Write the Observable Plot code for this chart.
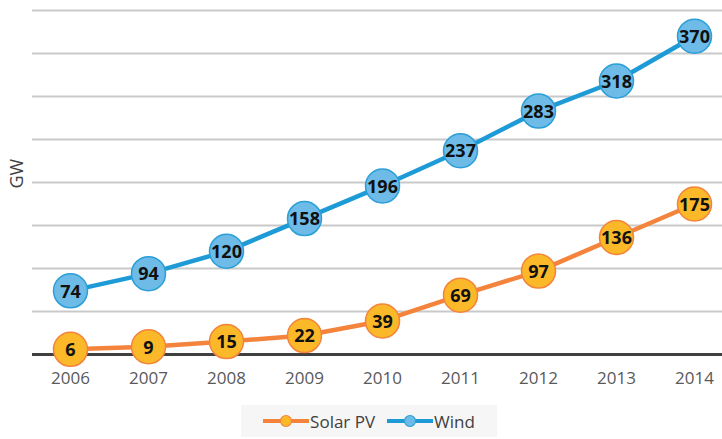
<!DOCTYPE html>
<html>
<head>
<meta charset="utf-8">
<script src="https://cdn.jsdelivr.net/npm/d3@7"></script>
<script src="https://cdn.jsdelivr.net/npm/@observablehq/plot@0.6"></script>
<style>
  html, body { margin: 0; padding: 0; background: #fff; }
  body { width: 722px; height: 439px; overflow: hidden; font-family: "Open Sans", "Noto Sans", sans-serif; }
  #legend { position: absolute; left: 241px; top: 405px; width: 256px; height: 32px; background: #f6f6f6;
    display: flex; align-items: center; justify-content: center; gap: 12px; font-size: 17px; color: #404040; }
  .item { display: flex; align-items: center; gap: 1px; }
</style>
</head>
<body>
<div id="chart"></div>
<div id="legend"></div>
<script>
const years = [2006, 2007, 2008, 2009, 2010, 2011, 2012, 2013, 2014];
const solarPV = [6, 9, 15, 22, 39, 69, 97, 136, 175];
const wind = [74, 94, 120, 158, 196, 237, 283, 318, 370];
const gridTicks = [50, 100, 150, 200, 250, 300, 350, 400];
const yLabel = "GW";

const seriesNames = ["Solar PV", "Wind"];
const lineColors = {"Solar PV": "#f4843c", "Wind": "#1e9bd7"};
const fillColors = {"Solar PV": "#fbb829", "Wind": "#6dbbe6"};
const strokeColors = {"Solar PV": "#f4843c", "Wind": "#2a9fd8"};

const data = [
  ...years.map((y, i) => ({year: y, value: solarPV[i], series: "Solar PV"})),
  ...years.map((y, i) => ({year: y, value: wind[i], series: "Wind"}))
];

const font = '"Open Sans", "Noto Sans", sans-serif';

const chart = Plot.plot({
  width: 722,
  height: 400,
  marginLeft: 32,
  marginRight: 0,
  marginTop: 10,
  marginBottom: 46,
  style: {fontFamily: font, fontSize: "15px", background: "transparent"},
  x: {domain: [2006, 2014], range: [70, 694]},
  y: {domain: [0, 400], range: [354, 10], axis: null},
  marks: [
    Plot.ruleY(gridTicks, {stroke: "#c9c9c9", strokeWidth: 2, strokeOpacity: 1}),
    Plot.ruleY([0], {stroke: "#404040", strokeWidth: 3}),
    Plot.axisX(years, {tickSize: 0, tickPadding: 17, tickFormat: d => String(d), fontSize: 17, fill: "#595959", label: null}),
    Plot.text([yLabel], {frameAnchor: "left", rotate: -90, dx: -15, dy: 6, fontSize: 18, fill: "#404040"}),
    ...seriesNames.map(s => Plot.line(data.filter(d => d.series === s), {x: "year", y: "value", stroke: lineColors[s], strokeWidth: 4.5})),
    ...seriesNames.map(s => Plot.dot(data.filter(d => d.series === s), {x: "year", y: "value", r: 17, fill: fillColors[s], stroke: strokeColors[s], strokeWidth: 1.5})),
    Plot.text(data, {x: "year", y: "value", text: d => String(d.value), fontSize: 18, fontWeight: "bold", fill: "#111", dy: 1})
  ]
});
document.getElementById("chart").appendChild(chart);

// legend
const legend = document.getElementById("legend");
seriesNames.forEach(s => {
  const item = document.createElement("div");
  item.className = "item";
  item.innerHTML = `<svg width="46" height="14"><line x1="0" y1="7" x2="46" y2="7" stroke="${lineColors[s]}" stroke-width="4"/><circle cx="23" cy="7" r="5.5" fill="${fillColors[s]}" stroke="${strokeColors[s]}" stroke-width="1.2"/></svg><span>${s}</span>`;
  legend.appendChild(item);
});
</script>
</body>
</html>
